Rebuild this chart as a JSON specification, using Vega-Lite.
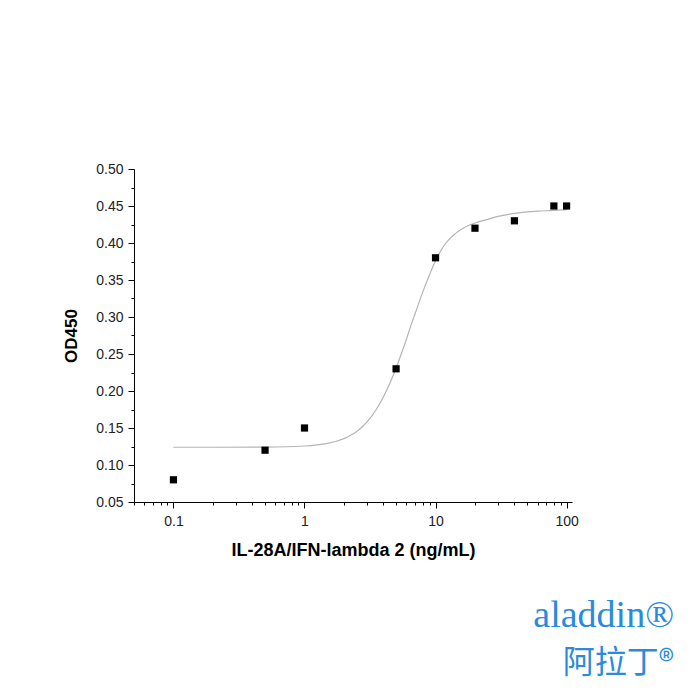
{
  "$schema": "https://vega.github.io/schema/vega-lite/v6.json",
  "autosize": {"type": "none"},
  "width": 438,
  "height": 333,
  "padding": {"left": 134, "top": 169, "right": 128, "bottom": 198},
  "background": "white",
  "config": {
    "view": {"stroke": null},
    "font": "Liberation Sans",
    "axis": {"grid": false, "domainColor": "#000", "tickColor": "#000", "labelColor": "#222", "labelFont": "Liberation Sans", "labelFontSize": 14, "titleFont": "Liberation Sans", "titleFontWeight": "bold", "titleColor": "#000", "domainWidth": 1, "tickWidth": 1}
  },
  "title": {
    "text": "aladdin®",
    "subtitle": "阿拉丁®",
    "orient": "bottom",
    "anchor": "end",
    "frame": "group",
    "font": "Liberation Serif",
    "fontSize": 38,
    "fontWeight": "normal",
    "color": "#2a8ade",
    "subtitleFont": "Noto Sans CJK SC",
    "subtitleFontSize": 32,
    "subtitleColor": "#2a8ade",
    "subtitlePadding": 13,
    "offset": 38,
    "dx": 102
  },
  "datasets": {
    "points": [
      {"conc": 0.1, "od": 0.08},
      {"conc": 0.5, "od": 0.12},
      {"conc": 1, "od": 0.15},
      {"conc": 5, "od": 0.23},
      {"conc": 10, "od": 0.38},
      {"conc": 20, "od": 0.42},
      {"conc": 40, "od": 0.43},
      {"conc": 80, "od": 0.45},
      {"conc": 100, "od": 0.45}
    ],
    "curve": [
      {"conc": 0.1, "od": 0.124},
      {"conc": 0.2, "od": 0.124},
      {"conc": 0.5, "od": 0.1242},
      {"conc": 1, "od": 0.1257},
      {"conc": 1.25, "od": 0.1272},
      {"conc": 1.5, "od": 0.1293},
      {"conc": 1.75, "od": 0.1321},
      {"conc": 2, "od": 0.1357},
      {"conc": 2.25, "od": 0.1401},
      {"conc": 2.5, "od": 0.1453},
      {"conc": 2.75, "od": 0.1514},
      {"conc": 3, "od": 0.1582},
      {"conc": 3.5, "od": 0.174},
      {"conc": 4, "od": 0.192},
      {"conc": 4.5, "od": 0.211},
      {"conc": 5, "od": 0.231},
      {"conc": 5.5, "od": 0.251},
      {"conc": 6, "od": 0.27},
      {"conc": 6.5, "od": 0.289},
      {"conc": 7, "od": 0.305},
      {"conc": 8, "od": 0.334},
      {"conc": 9, "od": 0.357},
      {"conc": 10, "od": 0.376},
      {"conc": 11, "od": 0.39},
      {"conc": 12, "od": 0.4},
      {"conc": 14, "od": 0.412},
      {"conc": 17, "od": 0.422},
      {"conc": 20, "od": 0.427},
      {"conc": 25, "od": 0.432},
      {"conc": 30, "od": 0.436},
      {"conc": 40, "od": 0.44},
      {"conc": 50, "od": 0.442},
      {"conc": 60, "od": 0.443},
      {"conc": 80, "od": 0.444},
      {"conc": 100, "od": 0.445}
    ]
  },
  "encoding": {
    "x": {
      "field": "conc",
      "type": "quantitative",
      "scale": {"type": "log", "domain": [0.05, 110], "nice": false},
      "axis": {
        "title": "IL-28A/IFN-lambda 2 (ng/mL)",
        "titleFontSize": 18,
        "values": [0.05, 0.06, 0.07, 0.08, 0.09, 0.1, 0.2, 0.3, 0.4, 0.5, 0.6, 0.7, 0.8, 0.9, 1, 2, 3, 4, 5, 6, 7, 8, 9, 10, 20, 30, 40, 50, 60, 70, 80, 90, 100],
        "labelExpr": "indexof([0.1, 1, 10, 100], datum.value) >= 0 ? format(datum.value, '~g') : ''",
        "labelOverlap": false,
        "labelFlush": false,
        "tickSize": {"condition": {"test": "indexof([0.1, 1, 10, 100], datum.value) >= 0", "value": 6}, "value": 3},
        "labelPadding": 6,
        "titlePadding": 13
      }
    },
    "y": {
      "field": "od",
      "type": "quantitative",
      "scale": {"domain": [0.05, 0.5], "nice": false, "zero": false},
      "axis": {
        "title": "OD450",
        "titleFontSize": 17,
        "values": [0.05, 0.075, 0.1, 0.125, 0.15, 0.175, 0.2, 0.225, 0.25, 0.275, 0.3, 0.325, 0.35, 0.375, 0.4, 0.425, 0.45, 0.475, 0.5],
        "labelExpr": "round(datum.value * 1000) % 50 == 0 ? format(datum.value, '.2f') : ''",
        "labelOverlap": false,
        "labelFlush": false,
        "tickSize": {"condition": {"test": "round(datum.value * 1000) % 50 == 0", "value": 6}, "value": 3},
        "labelPadding": 5,
        "titlePadding": 15
      }
    }
  },
  "layer": [
    {
      "data": {"name": "curve"},
      "mark": {"type": "line", "color": "#b4b4b4", "strokeWidth": 1.2, "interpolate": "monotone"}
    },
    {
      "data": {"name": "points"},
      "mark": {"type": "point", "shape": "square", "filled": true, "color": "#000", "opacity": 1, "size": 52}
    }
  ]
}
